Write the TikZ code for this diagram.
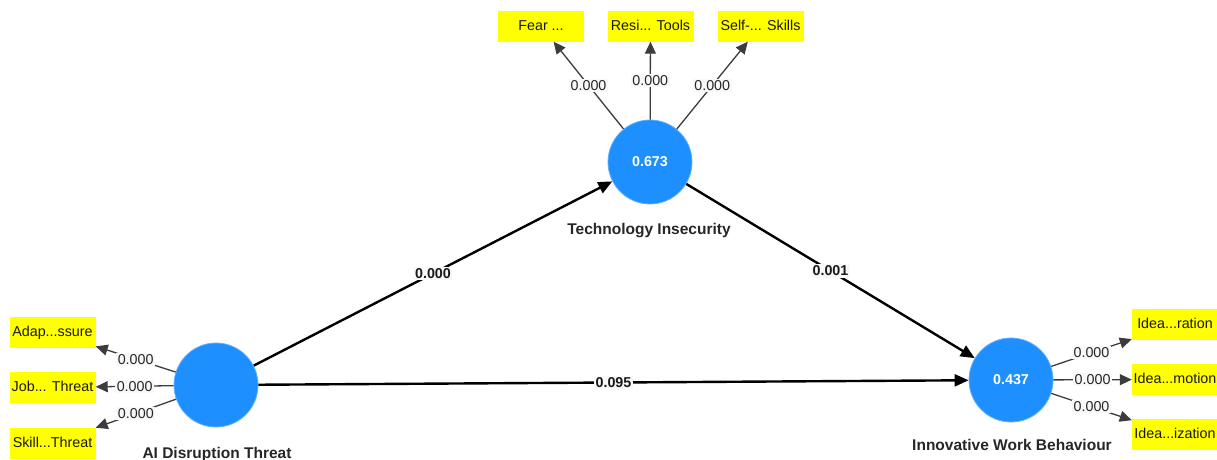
\documentclass[tikz,border=0pt]{standalone}
\usepackage{fontspec}
\setmainfont{Liberation Sans}
\usetikzlibrary{
  arrows.meta,
  positioning
}
\definecolor{plsLV}{HTML}{1E8FFF}
\definecolor{plsItem}{HTML}{FFFF00}
\definecolor{plsLoad}{HTML}{3C3C3C}
\definecolor{plsTag}{HTML}{F8F8F8}
\tikzset{
  latent/.style={
    circle, fill=plsLV, draw=plsLV!70!white, line width=0.8pt,
    minimum size=84pt, inner sep=0pt, text=white,
    font=\fontsize{14.3}{16}\selectfont\bfseries
  },
  item/.style={
    fill=plsItem, minimum width=86pt, minimum height=31pt, inner sep=0pt,
    text height=10.5pt, text depth=2.5pt, text=black!90,
    font=\fontsize{14.3}{16}\selectfont
  },
  lvname/.style={font=\fontsize{15.5}{18}\selectfont\bfseries, text=black!85, anchor=base},
  pathline/.style={-{Triangle[length=14pt, width=12pt]}, line width=2.4pt, black},
  loadline/.style={-{Triangle[length=12pt, width=11pt]}, line width=1.3pt, plsLoad},
  pathval/.style={fill=plsTag, inner sep=1.5pt, text=black!90, font=\fontsize{14.3}{16}\selectfont\bfseries},
  loadval/.style={fill=plsTag, inner sep=1.5pt, text=black!85, font=\fontsize{14.3}{16}\selectfont}
}
\begin{document}
\begin{tikzpicture}[x=1pt, y=-1pt]
  \useasboundingbox (0,0) rectangle (1217,459);
  % constructs
  \node[latent] (techins) at (650,162) {0.673};
  \node[latent] (aidisr) at (216,385) {};
  \node[latent] (iwb) at (1011,380) {0.437};
  \node[lvname] at (649,234) {Technology Insecurity};
  \node[lvname] at (217,458) {AI Disruption Threat};
  \node[lvname] at (1012,450) {Innovative Work Behaviour};
  % structural paths
  \draw[pathline] (aidisr) -- node[pathval] {0.000} (techins);
  \draw[pathline] (techins) -- node[pathval] {0.001} (iwb);
  \draw[pathline] (aidisr) -- node[pathval] {0.095} (iwb);
  % indicators
  \foreach \nm/\x/\y/\txt in {
    fear/541/26/{Fear ...},
    resi/650.5/26/{Resi... Tools},
    selfsk/760.5/26/{Self-... Skills}}{
    \node[item] (\nm) at (\x,\y) {\txt};
    \draw[loadline] (techins) -- node[loadval] {0.000} (\nm);
  }
  \foreach \nm/\x/\y/\txt in {
    adap/52.5/332.5/{Adap...ssure},
    jobth/52.5/387.5/{Job... Threat},
    skillth/52.5/443/{Skill...Threat}}{
    \node[item] (\nm) at (\x,\y) {\txt};
    \draw[loadline] (aidisr) -- node[loadval] {0.000} (\nm);
  }
  \foreach \nm/\x/\y/\txt in {
    idgen/1175/324.5/{Idea...ration},
    idprom/1175/379.5/{Idea...motion},
    idreal/1175/434.5/{Idea...ization}}{
    \node[item] (\nm) at (\x,\y) {\txt};
    \draw[loadline] (iwb) -- node[loadval] {0.000} (\nm);
  }
\end{tikzpicture}
\end{document}
